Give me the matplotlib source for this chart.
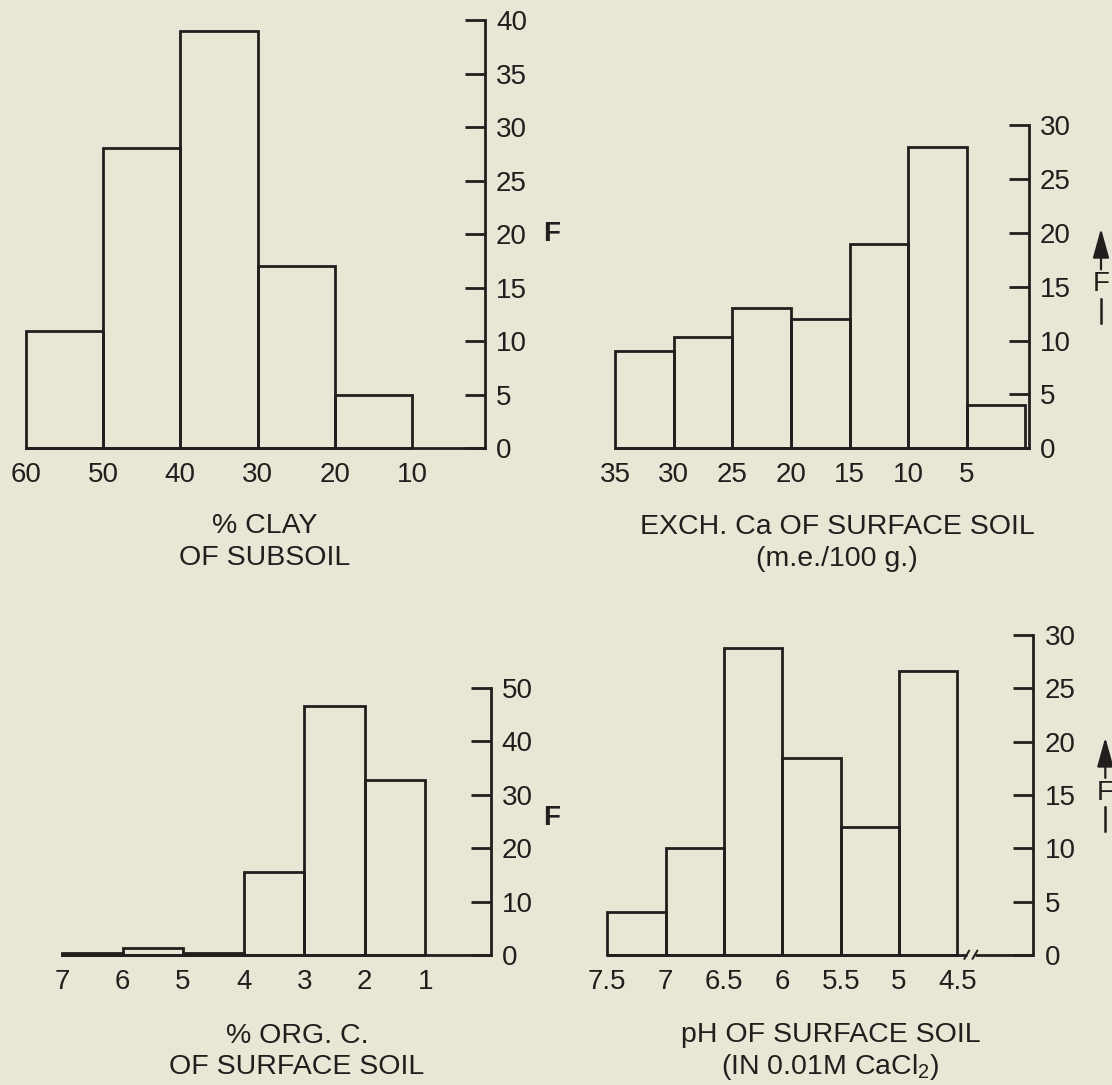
import numpy as np
import matplotlib
matplotlib.use("Agg")
import matplotlib.pyplot as plt
import matplotlib.transforms as mtransforms

plt.rcParams['font.family'] = ['Liberation Sans', 'DejaVu Sans']
plt.rcParams['mathtext.fontset'] = 'custom'
plt.rcParams['mathtext.rm'] = 'Liberation Sans'

# data (frequency per class)
clay_edges = [60, 50, 40, 30, 20, 10]
clay_counts = [11, 28, 39, 17, 5]
clay_yticks = [0, 5, 10, 15, 20, 25, 30, 35, 40]

ca_edges = [35, 30, 25, 20, 15, 10, 5, 0]
ca_counts = [9, 10.3, 13, 12, 19, 28, 4]
ca_labels = ['35', '30', '25', '20', '15', '10', '5']
ca_yticks = [0, 5, 10, 15, 20, 25, 30]

orgc_edges = [7, 6, 5, 4, 3, 2, 1]
orgc_counts = [0.3, 1.4, 0.3, 15.5, 46.6, 32.7]
orgc_yticks = [0, 10, 20, 30, 40, 50]

ph_edges = [7.5, 7, 6.5, 6, 5.5, 5, 4.5]
ph_counts = [4, 10, 28.8, 18.5, 12, 26.6]
ph_labels = ['7.5', '7', '6.5', '6', '5.5', '5', '4.5']
ph_yticks = [0, 5, 10, 15, 20, 25, 30]

BG = '#E8E6D5'
INK = '#231E1E'
LW = 2.0
TICK_FS = 20
W, H = 1112, 1085

fig = plt.figure(figsize=(W / 100, H / 100), dpi=100, facecolor=BG)


def px_rect(x0, x1, y0, y1):
    return [x0 / W, 1 - y1 / H, (x1 - x0) / W, (y1 - y0) / H]


def hist_panel(rect, edges, counts, xlabels, xlim, yticks, bottom=True):
    ax = fig.add_axes(rect)
    ax.set_facecolor('none')
    edges = np.array(edges, dtype=float)
    ax.bar(edges[:-1], counts, width=np.diff(edges), align='edge',
           facecolor='none', edgecolor=INK, linewidth=LW, clip_on=False)
    ax.set_xlim(*xlim)
    ax.set_ylim(yticks[0], yticks[-1])
    ax.set_xticks(edges[:len(xlabels)])
    ax.set_xticklabels(xlabels)
    ax.set_yticks(yticks)
    ax.yaxis.tick_right()
    ax.tick_params(axis='x', length=0, pad=10, labelsize=TICK_FS, colors=INK)
    ax.tick_params(axis='y', direction='in', length=14.5, width=LW, pad=8,
                   labelsize=TICK_FS, colors=INK)
    for s in ['left', 'top']:
        ax.spines[s].set_visible(False)
    ax.spines['right'].set_linewidth(LW)
    ax.spines['right'].set_color(INK)
    ax.spines['bottom'].set_linewidth(LW)
    ax.spines['bottom'].set_color(INK)
    ax.spines['bottom'].set_visible(bottom)
    return ax


def f_label(ax, y, dx_px, bold=True):
    ax.annotate('F', xy=(1, y), xycoords=('axes fraction', 'data'),
                xytext=(dx_px * 0.72, 0), textcoords='offset points',
                ha='center', va='center', fontsize=TICK_FS, color=INK,
                fontweight='bold' if bold else 'normal')


def f_arrow(ax, dx_px):
    tr = ax.get_yaxis_transform() + mtransforms.ScaledTranslation(
        dx_px / 100, 0, fig.dpi_scale_trans)
    ax.annotate('', xy=(1, 20.4), xytext=(1, 16.6), xycoords=tr, textcoords=tr,
                arrowprops=dict(arrowstyle='-|>,head_length=0.9,head_width=0.25',
                                color=INK, lw=1.6, mutation_scale=20,
                                shrinkA=0, shrinkB=0))
    ax.text(1, 15.2, 'F', transform=tr, ha='center', va='center',
            fontsize=TICK_FS, color=INK)
    ax.plot([1, 1], [13.9, 11.6], transform=tr, color=INK, lw=1.8, clip_on=False)


# % clay of subsoil
ax1 = hist_panel(px_rect(25.7, 485, 20, 448.3), clay_edges, clay_counts,
                 [str(v) for v in clay_edges], (60, 0.6), clay_yticks)
f_label(ax1, 20, 67)

# exchangeable Ca
ax2 = hist_panel(px_rect(615, 1029, 125, 448.3), ca_edges, ca_counts,
                 ca_labels, (35, -0.3), ca_yticks)
f_arrow(ax2, 72)

# % organic C
ax3 = hist_panel(px_rect(62, 490.7, 688, 955), orgc_edges, orgc_counts,
                 [str(v) for v in orgc_edges], (7, -0.08), orgc_yticks)
f_label(ax3, 25.6, 61)

# pH, with a broken baseline
ax4 = hist_panel(px_rect(607.3, 1033.3, 635, 955), ph_edges, ph_counts,
                 ph_labels, (7.5, 3.85), ph_yticks, bottom=False)
brk_a, brk_b = 4.42, 4.35
ax4.plot([7.5, brk_a], [0, 0], color=INK, lw=LW, clip_on=False,
         solid_capstyle='butt')
ax4.plot([brk_b, 3.85], [0, 0], color=INK, lw=LW, clip_on=False,
         solid_capstyle='butt')
for bx in (brk_a, brk_b):
    ax4.plot([bx + 0.02, bx - 0.02], [-0.35, 0.4], color=INK, lw=1.4,
             clip_on=False)
f_arrow(ax4, 72)

# captions under each panel
cap = dict(ha='center', va='center', fontsize=20.5, color=INK)
fig.text(265 / W, 1 - 526 / H, '% CLAY', **cap)
fig.text(265 / W, 1 - 558 / H, 'OF SUBSOIL', **cap)
fig.text(837 / W, 1 - 527 / H, 'EXCH. Ca OF SURFACE SOIL', **cap)
fig.text(837 / W, 1 - 559 / H, '(m.e./100 g.)', **cap)
fig.text(297 / W, 1 - 1036 / H, '% ORG. C.', **cap)
fig.text(297 / W, 1 - 1067 / H, 'OF SURFACE SOIL', **cap)
fig.text(831 / W, 1 - 1035 / H, 'pH OF SURFACE SOIL', **cap)
fig.text(830 / W, 1 - 1067 / H, r'(IN 0.01M CaCl$_2$)', **cap)

fig.savefig('out.png', dpi=100, facecolor=BG)
